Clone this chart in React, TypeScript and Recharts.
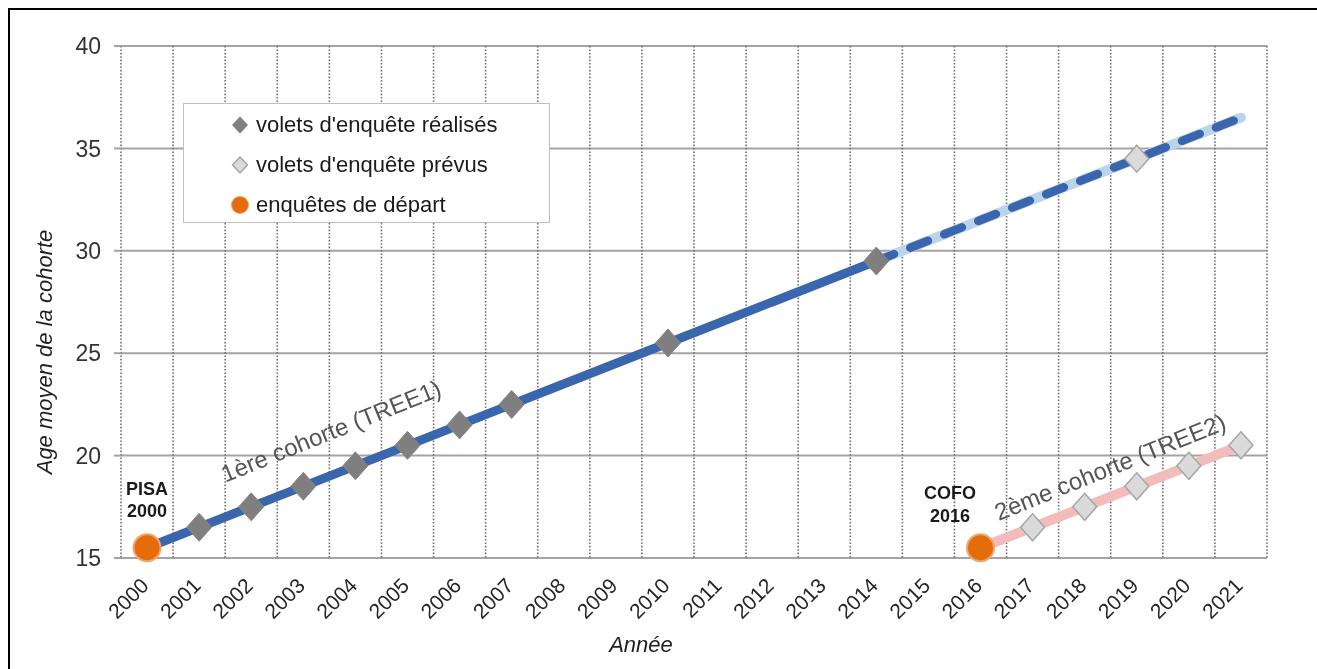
import { ComposedChart, Line, Scatter, XAxis, YAxis, CartesianGrid } from 'recharts';

const FONT = "'Liberation Sans', Arial, sans-serif";

// x categories
const years = [
  2000, 2001, 2002, 2003, 2004, 2005, 2006, 2007, 2008, 2009, 2010,
  2011, 2012, 2013, 2014, 2015, 2016, 2017, 2018, 2019, 2020, 2021,
];

// lines (null = no survey that year, line is joined across the gap)
const tree1Done = [
  15.5, 16.5, 17.5, 18.5, 19.5, 20.5, 21.5, 22.5, null, null, 25.5,
  null, null, null, 29.5, null, null, null, null, null, null, null,
];
const tree1Planned = [
  null, null, null, null, null, null, null, null, null, null, null,
  null, null, null, 29.5, null, null, null, null, 34.5, null, 36.5,
];
const tree2Line = [
  null, null, null, null, null, null, null, null, null, null, null,
  null, null, null, null, null, 15.5, 16.5, 17.5, 18.5, 19.5, 20.5,
];

// markers
const startYears = [2000, 2016];
const startAges = [15.5, 15.5];
const doneYears = [2001, 2002, 2003, 2004, 2005, 2006, 2007, 2010, 2014];
const doneAges = [16.5, 17.5, 18.5, 19.5, 20.5, 21.5, 22.5, 25.5, 29.5];
const plannedYears = [2019, 2017, 2018, 2019, 2020, 2021];
const plannedAges = [34.5, 16.5, 17.5, 18.5, 19.5, 20.5];

const ageTicks = [15, 20, 25, 30, 35, 40];

const rows = years.map((year, i) => ({
  year,
  tree1: tree1Done[i],
  tree1Proj: tree1Planned[i],
  tree2: tree2Line[i],
}));
const startPts = startYears.map((year, i) => ({ year, age: startAges[i] }));
const donePts = doneYears.map((year, i) => ({ year, age: doneAges[i] }));
const plannedPts = plannedYears.map((year, i) => ({ year, age: plannedAges[i] }));

const DARK_BLUE = '#3a66ad';
const LIGHT_BLUE = '#bcd3ec';
const PINK = '#f3bcbc';
const ORANGE = '#e46c0a';

const diamond = (cx: number, cy: number, rx: number, ry: number) =>
  `${cx},${cy - ry} ${cx + rx},${cy} ${cx},${cy + ry} ${cx - rx},${cy}`;

const DoneMark = (p: any) => (
  <polygon points={diamond(p.cx, p.cy, 12.5, 14)} fill="#7f7f7f" stroke="#868686" strokeWidth={1} />
);
const PlannedMark = (p: any) => (
  <polygon points={diamond(p.cx, p.cy, 12, 13.5)} fill="#dadada" stroke="#a6a6a6" strokeWidth={1.5} />
);
const StartMark = (p: any) => (
  <circle cx={p.cx} cy={p.cy} r={13.5} fill={ORANGE} stroke="#f0a56a" strokeWidth={2} />
);

const YearTick = ({ x, y, payload }: any) => (
  <text
    x={x + 3}
    y={y + 29}
    transform={`rotate(-45 ${x + 3} ${y + 29})`}
    textAnchor="end"
    fontSize={21}
    fontFamily={FONT}
    fill="#262626"
  >
    {payload.value}
  </text>
);

const legendItems = [
  { label: "volets d'enquête réalisés", kind: 'done' },
  { label: "volets d'enquête prévus", kind: 'planned' },
  { label: 'enquêtes de départ', kind: 'start' },
];

function LegendIcon({ kind }: { kind: string }) {
  return (
    <svg width={20} height={20} style={{ display: 'block' }}>
      {kind === 'done' && <polygon points={diamond(10, 10, 8, 8.5)} fill="#7f7f7f" />}
      {kind === 'planned' && (
        <polygon points={diamond(10, 10, 7.5, 8)} fill="#dadada" stroke="#a6a6a6" strokeWidth={1.5} />
      )}
      {kind === 'start' && <circle cx={10} cy={10} r={8.5} fill={ORANGE} stroke="#f0a56a" strokeWidth={1} />}
    </svg>
  );
}

export default function App() {
  return (
    <div style={{ position: 'relative', width: 1299, height: 648, marginLeft: 2, marginTop: 2, background: '#fff' }}>
      {/* page frame: only top and left edges are visible in the source */}
      <div
        style={{
          position: 'fixed',
          left: 8,
          top: 8,
          right: 0,
          bottom: 0,
          borderTop: '2px solid #000',
          borderLeft: '2px solid #000',
          pointerEvents: 'none',
        }}
      />
      <ComposedChart
        width={1297}
        height={648}
        data={rows}
        margin={{ top: 36, right: 40, bottom: 40, left: 51 }}
      >
        <CartesianGrid vertical={false} stroke="#a3a3a3" strokeWidth={2} />
        <CartesianGrid
          horizontal={false}
          stroke="#6f6f6f"
          strokeWidth={1.6}
          strokeDasharray="1.6 1.8"
          verticalCoordinatesGenerator={({ offset }: any) =>
            Array.from({ length: years.length + 1 }, (_, i) => offset.left + (i * offset.width) / years.length)
          }
        />
        <XAxis
          dataKey="year"
          type="number"
          domain={[1999.5, 2021.5]}
          ticks={years}
          interval={0}
          height={60}
          axisLine={false}
          tickLine={false}
          tickSize={0}
          tickMargin={0}
          tick={<YearTick />}
        />
        <YAxis
          type="number"
          domain={[15, 40]}
          ticks={ageTicks}
          width={60}
          axisLine={false}
          tickLine={{ stroke: '#a3a3a3', strokeWidth: 2 }}
          tickSize={7}
          tickMargin={13}
          tick={{ fontSize: 23, fill: '#333', fontFamily: FONT }}
        />

        <Line
          dataKey="tree2"
          stroke={PINK}
          strokeWidth={10}
          strokeLinecap="round"
          dot={false}
          activeDot={false}
          connectNulls
          isAnimationActive={false}
        />
        <Line
          dataKey="tree1Proj"
          stroke={LIGHT_BLUE}
          strokeWidth={10}
          strokeLinecap="round"
          dot={false}
          activeDot={false}
          connectNulls
          isAnimationActive={false}
        />
        <Line
          dataKey="tree1Proj"
          stroke={DARK_BLUE}
          strokeWidth={8.5}
          strokeDasharray="19 17.5"
          strokeLinecap="round"
          dot={false}
          activeDot={false}
          connectNulls
          isAnimationActive={false}
        />
        <Line
          dataKey="tree1"
          stroke={DARK_BLUE}
          strokeWidth={9}
          strokeLinecap="round"
          dot={false}
          activeDot={false}
          connectNulls
          isAnimationActive={false}
        />

        <Scatter data={donePts} dataKey="age" shape={DoneMark} isAnimationActive={false} />
        <Scatter data={plannedPts} dataKey="age" shape={PlannedMark} isAnimationActive={false} />
        <Scatter data={startPts} dataKey="age" shape={StartMark} isAnimationActive={false} />

        <text
          x={34}
          y={342}
          transform="rotate(-90 34 342)"
          textAnchor="middle"
          dominantBaseline="central"
          fontSize={22}
          fontStyle="italic"
          fontFamily={FONT}
          fill="#1f1f1f"
        >
          Age moyen de la cohorte
        </text>
        <text
          x={631}
          y={634}
          textAnchor="middle"
          dominantBaseline="central"
          fontSize={22}
          fontStyle="italic"
          fontFamily={FONT}
          fill="#1f1f1f"
        >
          Année
        </text>

        <text textAnchor="middle" fontSize={18} fontWeight="bold" fontFamily={FONT} fill="#1a1a1a">
          <tspan x={137} y={485}>PISA</tspan>
          <tspan x={137} y={507}>2000</tspan>
        </text>
        <text textAnchor="middle" fontSize={18} fontWeight="bold" fontFamily={FONT} fill="#1a1a1a">
          <tspan x={940} y={489}>COFO</tspan>
          <tspan x={940} y={512}>2016</tspan>
        </text>

        <text
          x={321}
          y={421}
          transform="rotate(-22 321 421)"
          textAnchor="middle"
          dominantBaseline="central"
          fontSize={24}
          fontFamily={FONT}
          fill="#555"
        >
          1ère cohorte (TREE1)
        </text>
        <text
          x={1100}
          y={457}
          transform="rotate(-22 1100 457)"
          textAnchor="middle"
          dominantBaseline="central"
          fontSize={24}
          fontFamily={FONT}
          fill="#555"
        >
          2ème cohorte (TREE2)
        </text>
      </ComposedChart>

      <div
        style={{
          position: 'absolute',
          left: 173,
          top: 93,
          width: 367,
          height: 120,
          boxSizing: 'border-box',
          border: '1px solid #bfbfbf',
          background: '#fff',
          paddingTop: 1,
          fontFamily: FONT,
          fontSize: 22,
          color: '#1a1a1a',
        }}
      >
        {legendItems.map((item) => (
          <div key={item.kind} style={{ display: 'flex', alignItems: 'center', height: 40 }}>
            <div style={{ width: 46 }} />
            <LegendIcon kind={item.kind} />
            <span style={{ marginLeft: 6 }}>{item.label}</span>
          </div>
        ))}
      </div>
    </div>
  );
}
